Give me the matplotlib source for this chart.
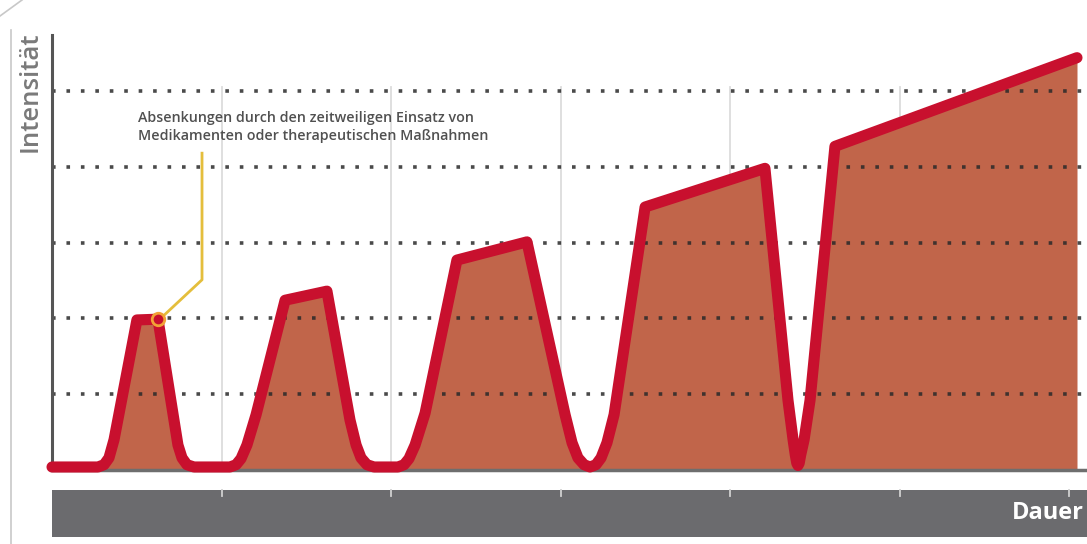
import matplotlib
matplotlib.use("Agg")
import matplotlib.pyplot as plt
from matplotlib.patches import Rectangle
from matplotlib.lines import Line2D

# ---- data (x: duration units, y: intensity units) ----
curve_x = [0.000, 0.271, 0.307, 0.336, 0.366, 0.501, 0.625,
           0.743, 0.767, 0.796, 0.838, 1.050,
           1.086, 1.115, 1.150, 1.204, 1.375, 1.622,
           1.758, 1.794, 1.823, 1.858, 1.900, 2.041,
           2.077, 2.106, 2.142, 2.201, 2.389, 2.802,
           3.027, 3.068, 3.103, 3.139, 3.174, 3.209, 3.239, 3.274, 3.316,
           3.499, 4.206,
           4.342, 4.372, 4.385, 4.394, 4.401, 4.408, 4.417, 4.437, 4.472,
           4.619, 6.047]
curve_y = [0.04, 0.04, 0.07, 0.16, 0.40, 1.98, 1.99,
           0.33, 0.16, 0.07, 0.04, 0.04,
           0.07, 0.15, 0.33, 0.73, 2.24, 2.36,
           0.66, 0.33, 0.16, 0.07, 0.04, 0.04,
           0.07, 0.15, 0.33, 0.75, 2.77, 3.01,
           0.73, 0.36, 0.16, 0.07, 0.04, 0.07, 0.16, 0.36, 0.73,
           3.47, 3.98,
           0.92, 0.40, 0.20, 0.09, 0.06, 0.09, 0.20, 0.40, 0.92,
           4.27, 5.44]
grid_levels = [1, 2, 3, 4, 5]
vgrid_positions = [1, 2, 3, 4, 5, 6]
ylabel = "Intensität"
xlabel = "Dauer"
note_text = "Absenkungen durch den zeitweiligen Einsatz von\nMedikamenten oder therapeutischen Maßnahmen"
note_point = (0.625, 1.99)
note_path_x = [0.885, 0.885, 0.660]
note_path_y = [4.18, 2.51, 2.04]

RED = "#c8102e"
FILL = "#c1654a"
BAR = "#6b6b6e"

fig = plt.figure(figsize=(10.87, 5.44), dpi=100)
ax = fig.add_axes([0, 0, 1, 1])
ax.set_xlim(-0.3068, 6.106)
ax.set_ylim(-0.976, 6.201)
ax.axis("off")

# light vertical grid
for xv in vgrid_positions:
    ax.plot([xv, xv], [0, 5.05], color="#dcdcdc", lw=1.3, zorder=1)

# fill
ax.fill_between(curve_x, 0, curve_y, color=FILL, lw=0, zorder=2)

# dotted horizontal grid
for yv in grid_levels:
    ax.plot([0, 6.106], [yv, yv], color="#2a2a2a", lw=2.6,
            linestyle=(0, (1, 3)), dash_capstyle="butt", zorder=3, alpha=0.85)

# baseline and y-axis
ax.plot([0, 6.106], [0, 0], color="#6e6e6e", lw=2.5, zorder=2.5)
ax.plot([0, 0], [0, 5.74], color="#555555", lw=2.2, zorder=4)

# red line
ax.plot(curve_x, curve_y, color=RED, lw=8, solid_joinstyle="round",
        solid_capstyle="round", zorder=5)

# bottom bar
ax.add_patch(Rectangle((0, -0.884), 6.106, 0.62, color=BAR, lw=0, zorder=2))
for xv in vgrid_positions:
    ax.plot([xv, xv], [-0.264, -0.34], color="#d0d0d0", lw=1.3, zorder=3)

ax.text(6.085, -0.57, xlabel, color="white", fontsize=17, fontweight="bold",
        family=["Open Sans", "DejaVu Sans"], ha="right", va="center", zorder=6)

# y label
fig.text(30 / 1087, 1 - 92 / 544, ylabel, rotation=90, color="#7a7a7a",
         fontsize=18.5, fontweight="semibold",
         family=["Open Sans", "DejaVu Sans"], ha="center", va="center")

# annotation
ax.plot(note_path_x, note_path_y, color="#e4be3c", lw=2, zorder=6)
ax.plot([note_point[0]], [note_point[1]], marker="o", ms=9, mfc=RED,
        mec="#f2a236", mew=2, zorder=7)
ax.text(0.505, 4.525, note_text, color="#505050", fontsize=10.3,
        fontweight="semibold",
        family=["Open Sans", "DejaVu Sans"], ha="left", va="center",
        linespacing=1.35, zorder=6)

# page edge artefact
fig.add_artist(Line2D([11 / 1087, 11 / 1087], [0, 1 - 30 / 544], color="#c8c8c8", lw=1.2))
fig.add_artist(Line2D([0, 22 / 1087], [1 - 16 / 544, 1], color="#c8c8c8", lw=1.2))

fig.savefig("out.png", dpi=100)
